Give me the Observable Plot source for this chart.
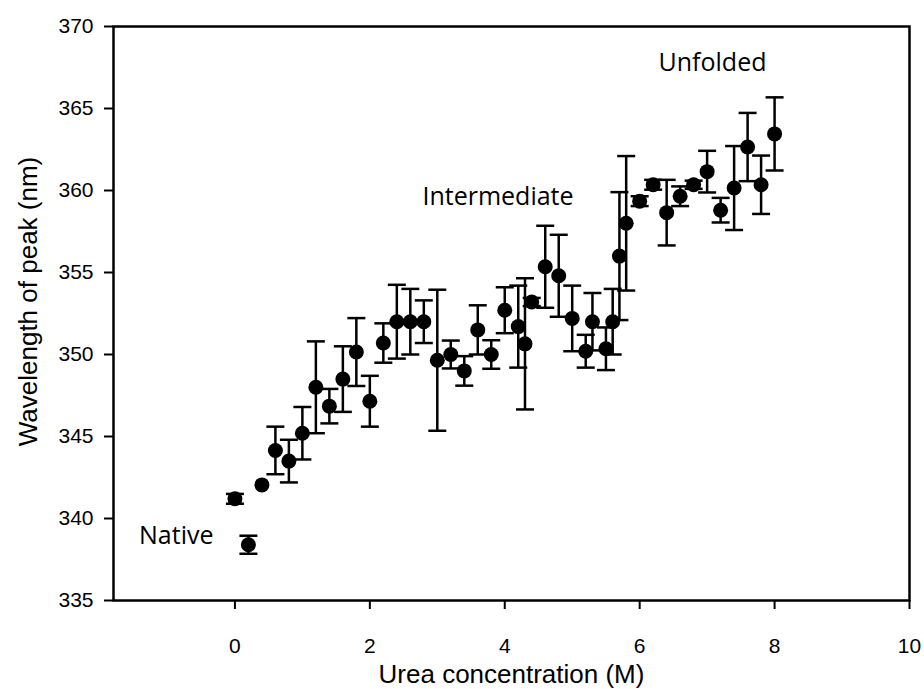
<!DOCTYPE html>
<html>
<head>
<meta charset="utf-8">
<script src="https://cdn.jsdelivr.net/npm/d3@7"></script>
<script src="https://cdn.jsdelivr.net/npm/@observablehq/plot@0.6"></script>
<style>
  html, body { margin: 0; padding: 0; background: #fff; }
</style>
</head>
<body>
<div id="chart"></div>
<script>
// Urea concentration (M)
const urea = [0, 0.2, 0.4, 0.6, 0.8, 1.0, 1.2, 1.4, 1.6, 1.8, 2.0, 2.2, 2.4, 2.6, 2.8,
  3.0, 3.2, 3.4, 3.6, 3.8, 4.0, 4.2, 4.3, 4.4, 4.6, 4.8, 5.0, 5.2, 5.3, 5.5, 5.6,
  5.7, 5.8, 6.0, 6.2, 6.4, 6.6, 6.8, 7.0, 7.2, 7.4, 7.6, 7.8, 8.0];
// Wavelength of peak (nm)
const wavelength = [341.2, 338.4, 342.05, 344.15, 343.5, 345.2, 348.0, 346.85, 348.5, 350.15, 347.15, 350.7, 352.0, 352.0, 352.0,
  349.65, 350.0, 349.0, 351.5, 350.0, 352.7, 351.7, 350.65, 353.2, 355.35, 354.8, 352.2, 350.2, 352.0, 350.35, 352.0,
  356.0, 358.0, 359.35, 360.35, 358.65, 359.65, 360.35, 361.15, 358.8, 360.15, 362.65, 360.35, 363.45];
// Error (± nm)
const errorNm = [0.3, 0.55, 0, 1.45, 1.3, 1.6, 2.8, 1.05, 2.0, 2.07, 1.55, 1.2, 2.25, 2.0, 1.3,
  4.3, 0.85, 0.9, 1.5, 0.87, 1.4, 2.5, 4.0, 0.25, 2.5, 2.5, 2.0, 1.0, 1.75, 1.3, 2.0,
  3.9, 4.1, 0.3, 0.3, 2.0, 0.6, 0.25, 1.27, 0.75, 2.56, 2.08, 1.78, 2.23];

const xTicks = [0, 2, 4, 6, 8, 10];
const yTicks = [335, 340, 345, 350, 355, 360, 365, 370];
const xDomain = [-1.8, 10];
const yDomain = [335, 370];

const annotations = [
  {label: "Native", x: -0.87, y: 338.96},
  {label: "Intermediate", x: 3.90, y: 359.6},
  {label: "Unfolded", x: 7.08, y: 367.77}
];

const data = urea.map((x, i) => ({x, y: wavelength[i], lo: wavelength[i] - errorNm[i], hi: wavelength[i] + errorNm[i], e: errorNm[i]}));
const withErr = data.filter(d => d.e > 0);

const capSymbol = {
  draw(context) {
    context.moveTo(-9, 0);
    context.lineTo(9, 0);
  }
};

const chart = Plot.plot({
  width: 924,
  height: 689,
  marginLeft: 113,
  marginRight: 15,
  marginTop: 26,
  marginBottom: 89,
  style: {fontFamily: "'Liberation Sans', Arial, sans-serif", fontSize: "21px", color: "#000", background: "#fff", overflow: "visible"},
  x: {domain: xDomain},
  y: {domain: yDomain},
  marks: [
    Plot.axisX({ticks: xTicks, tickSize: 9, tickPadding: 29, strokeWidth: 2, label: null}),
    Plot.axisY({ticks: yTicks, tickSize: 9, tickPadding: 11, strokeWidth: 2, label: null}),
    Plot.ruleX(withErr, {x: "x", y1: "lo", y2: "hi", stroke: "#000", strokeWidth: 2.5}),
    Plot.dot(withErr, {x: "x", y: "hi", symbol: capSymbol, stroke: "#000", fill: "none", strokeWidth: 2.5}),
    Plot.dot(withErr, {x: "x", y: "lo", symbol: capSymbol, stroke: "#000", fill: "none", strokeWidth: 2.5}),
    Plot.dot(data, {x: "x", y: "y", r: 7.5, fill: "#000", stroke: "none"}),
    Plot.text(annotations, {x: "x", y: "y", text: "label", fontFamily: "'Open Sans', sans-serif", fontSize: 25, fill: "#000", textAnchor: "middle", lineAnchor: "middle"}),
    Plot.text(["Urea concentration (M)"], {frameAnchor: "bottom", dy: 74, lineAnchor: "middle", textAnchor: "middle", fontSize: 26, fill: "#000"}),
    Plot.text(["Wavelength of peak (nm)"], {frameAnchor: "left", dx: -85, dy: -12, rotate: -90, lineAnchor: "middle", textAnchor: "middle", fontSize: 26, fill: "#000"}),
    Plot.frame({stroke: "#000", strokeWidth: 2.5})
  ]
});
// enlarge axis tick labels
d3.select(chart).selectAll('g[aria-label$="tick label"]').attr("font-size", 21).style("font-size", "21px");
d3.select(chart).selectAll('g[aria-label$="tick label"] text').style("font-size", "21px");
document.getElementById("chart").appendChild(chart);
</script>
</body>
</html>
